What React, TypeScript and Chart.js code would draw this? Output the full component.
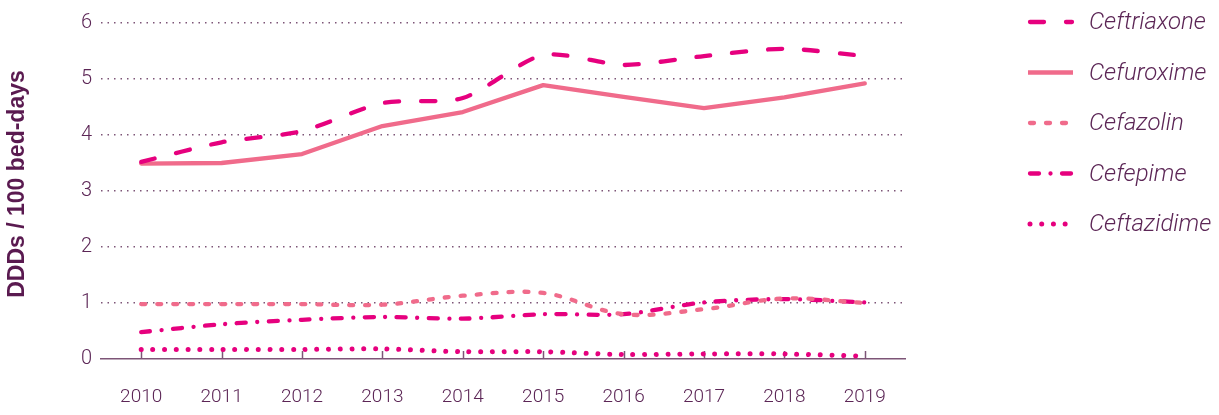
import React, { useEffect, useRef } from 'react';
import { Chart, registerables } from 'chart.js';

Chart.register(...registerables);

const years = ['2010', '2011', '2012', '2013', '2014', '2015', '2016', '2017', '2018', '2019'];
const ceftriaxone = [3.52, 3.87, 4.07, 4.57, 4.66, 5.43, 5.25, 5.41, 5.54, 5.41];
const cefuroxime = [3.49, 3.5, 3.66, 4.16, 4.41, 4.89, 4.68, 4.48, 4.67, 4.92];
const cefazolin = [0.98, 0.98, 0.98, 0.97, 1.13, 1.18, 0.8, 0.89, 1.08, 1.0];
const cefepime = [0.48, 0.62, 0.7, 0.75, 0.72, 0.8, 0.8, 1.01, 1.07, 1.01];
const ceftazidime = [0.17, 0.17, 0.17, 0.18, 0.13, 0.13, 0.08, 0.09, 0.09, 0.05];
const seriesNames = ['Ceftriaxone', 'Cefuroxime', 'Cefazolin', 'Cefepime', 'Ceftazidime'];
const yMin = 0;
const yMax = 6;
const yStep = 1;
const yTitle = 'DDDs / 100 bed-days';

const MAGENTA = '#e6007e';
const PINK = '#f06b8b';
const PURPLE = '#5c2656';
const TITLE = '#5a1a50';
const GRID = '#7d5577';
const FONT = "Roboto, 'Liberation Sans', sans-serif";

export default function App() {
  const ref = useRef<HTMLCanvasElement | null>(null);

  useEffect(() => {
    document.body.style.margin = '0';
    const canvas = ref.current!;

    const mk = (label: string, data: number[], color: string, dash: number[], width: number, tension: number) => ({
      label,
      data,
      borderColor: color,
      backgroundColor: color,
      borderWidth: width,
      borderDash: dash,
      borderCapStyle: 'round' as const,
      borderJoinStyle: 'round' as const,
      pointRadius: 0,
      tension,
      fill: false,
    });

    const datasets = [
      mk(seriesNames[0], ceftriaxone, MAGENTA, [14, 22], 4.3, 0.25),
      mk(seriesNames[1], cefuroxime, PINK, [], 4.3, 0),
      mk(seriesNames[2], cefazolin, PINK, [4, 12], 4.3, 0.35),
      mk(seriesNames[3], cefepime, MAGENTA, [9, 11.5, 0.01, 11.5], 4.3, 0.3),
      mk(seriesNames[4], ceftazidime, MAGENTA, [0.01, 11.7], 5, 0.3),
    ];

    const extras = {
      id: 'extras',
      beforeDatasetsDraw(chart: any) {
        const ctx = chart.ctx;
        const x = chart.scales.x;
        const y = chart.scales.y;
        const base = y.getPixelForValue(0);
        ctx.save();
        ctx.strokeStyle = GRID;
        ctx.lineWidth = 1.5;
        for (let i = 0; i < years.length; i++) {
          const px = Math.round(x.getPixelForValue(i)) + 0.5;
          ctx.beginPath();
          ctx.moveTo(px, base);
          ctx.lineTo(px, base - 8);
          ctx.stroke();
        }
        ctx.restore();
      },
      afterDraw(chart: any) {
        const ctx = chart.ctx;
        const area = chart.chartArea;
        ctx.save();
        ctx.translate(18, (area.top + area.bottom) / 2 - 7);
        ctx.rotate(-Math.PI / 2);
        ctx.fillStyle = TITLE;
        ctx.font = `bold 23px 'Liberation Sans', Arial, sans-serif`;
        ctx.textAlign = 'center';
        ctx.textBaseline = 'middle';
        ctx.fillText(yTitle, 0, 0);
        ctx.restore();

        chart.data.datasets.forEach((ds: any, i: number) => {
          const cy = 22 + i * 50.5;
          ctx.save();
          ctx.strokeStyle = ds.borderColor;
          ctx.lineWidth = ds.borderWidth;
          ctx.lineCap = 'round';
          ctx.setLineDash(ds.borderDash || []);
          ctx.beginPath();
          if ((ds.borderDash || []).length === 0) {
            ctx.lineCap = 'butt';
            ctx.moveTo(1028, cy);
            ctx.lineTo(1073, cy);
          } else {
            ctx.moveTo(1030, cy);
            ctx.lineTo(1072, cy);
          }
          ctx.stroke();
          ctx.setLineDash([]);
          ctx.fillStyle = PURPLE;
          ctx.font = `italic 300 24px ${FONT}`;
          ctx.textAlign = 'left';
          ctx.textBaseline = 'middle';
          ctx.fillText(ds.label, 1089, cy + 1);
          ctx.restore();
        });
      },
    };

    const chart = new Chart(canvas, {
      type: 'line',
      data: { labels: years, datasets },
      options: {
        animation: false,
        responsive: false,
        layout: { padding: { top: 23, right: 314, left: 0, bottom: 0 } },
        plugins: {
          legend: { display: false },
          tooltip: { enabled: false },
          title: { display: false },
        },
        scales: {
          x: {
            type: 'category',
            offset: true,
            grid: { display: false, drawTicks: false },
            border: { display: true, color: GRID, width: 1.5 },
            ticks: {
              color: PURPLE,
              font: { family: FONT, size: 19, weight: '300' as any },
              padding: 27,
              maxRotation: 0,
            },
            afterFit(scale: any) {
              scale.height = 56;
            },
          },
          y: {
            min: yMin,
            max: yMax,
            grid: {
              drawTicks: false,
              lineWidth: 1.5,
              color: (c: any) => (c.tick && c.tick.value === 0 ? 'rgba(0,0,0,0)' : GRID),
            },
            border: { display: false, dash: [1.5, 5] },
            ticks: {
              stepSize: yStep,
              color: PURPLE,
              padding: 9,
              font: { family: FONT, size: 20, weight: '300' as any },
            },
            afterFit(scale: any) {
              scale.width = 101;
            },
          },
        },
      },
      plugins: [extras],
    });

    return () => chart.destroy();
  }, []);

  return (
    <div style={{ width: 1219, height: 415 }}>
      <canvas ref={ref} width={1219} height={415} style={{ display: 'block' }} />
    </div>
  );
}
